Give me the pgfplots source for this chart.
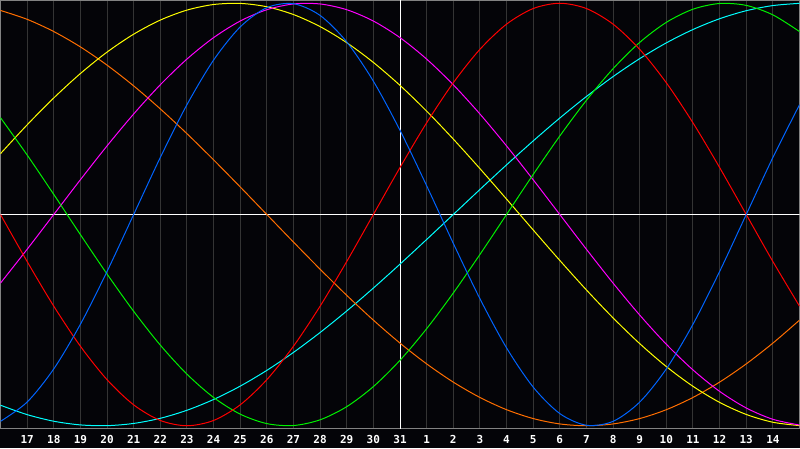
\documentclass[border=0pt]{standalone}
\usepackage{pgfplots}
\usepackage{pgfplotstable}
\pgfplotsset{compat=1.18}
\usepackage{fontspec}
\setmonofont{DejaVu Sans Mono}
\definecolor{bg}{RGB}{4,4,8}
\definecolor{gridc}{RGB}{52,52,52}
\definecolor{boxc}{RGB}{130,130,130}
\definecolor{cblue}{RGB}{0,100,255}
\definecolor{cred}{RGB}{255,0,0}
\definecolor{cgreen}{RGB}{0,240,0}
\definecolor{cmag}{RGB}{255,0,255}
\definecolor{cyel}{RGB}{255,255,0}
\definecolor{corange}{RGB}{255,110,0}
\definecolor{ccyan}{RGB}{0,255,255}
\pgfplotstableread{
t blue red green magenta yellow orange cyan
0 -0.9791 0 0.4582 -0.3247 0.2881 0.9659 -0.9028
1 -0.8879 -0.2225 0.2817 -0.1646 0.4244 0.9239 -0.9473
2 -0.7308 -0.4339 0.0951 0 0.5517 0.8660 -0.9786
3 -0.5196 -0.6235 -0.0951 0.1646 0.6673 0.7934 -0.9960
4 -0.2698 -0.7818 -0.2817 0.3247 0.7687 0.7071 -0.9996
5 0 -0.9010 -0.4582 0.4759 0.8536 0.6088 -0.9890
6 0.2698 -0.9749 -0.6182 0.6142 0.9203 0.5 -0.9647
7 0.5196 -1 -0.7557 0.7357 0.9675 0.3827 -0.9267
8 0.7308 -0.9749 -0.8660 0.8372 0.9940 0.2588 -0.8757
9 0.8879 -0.9010 -0.9450 0.9158 0.9993 0.1305 -0.8125
10 0.9791 -0.7818 -0.9898 0.9694 0.9834 0 -0.7378
11 0.9977 -0.6235 -0.9989 0.9966 0.9465 -0.1305 -0.6528
12 0.9423 -0.4339 -0.9718 0.9966 0.8894 -0.2588 -0.5586
13 0.8170 -0.2225 -0.9096 0.9694 0.8133 -0.3827 -0.4566
14 0.6311 0 -0.8146 0.9158 0.7199 -0.5 -0.3482
15 0.3984 0.2225 -0.6901 0.8372 0.6112 -0.6088 -0.2349
16 0.1362 0.4339 -0.5406 0.7357 0.4894 -0.7071 -0.1183
17 -0.1362 0.6235 -0.3717 0.6142 0.3572 -0.7934 0
18 -0.3984 0.7818 -0.1893 0.4759 0.2174 -0.8660 0.1183
19 -0.6311 0.9010 0 0.3247 0.0730 -0.9239 0.2349
20 -0.8170 0.9749 0.1893 0.1646 -0.0730 -0.9659 0.3482
21 -0.9423 1 0.3717 0 -0.2174 -0.9914 0.4566
22 -0.9977 0.9749 0.5406 -0.1646 -0.3572 -1 0.5586
23 -0.9791 0.9010 0.6901 -0.3247 -0.4894 -0.9914 0.6528
24 -0.8879 0.7818 0.8146 -0.4759 -0.6112 -0.9659 0.7378
25 -0.7308 0.6235 0.9096 -0.6142 -0.7199 -0.9239 0.8125
26 -0.5196 0.4339 0.9718 -0.7357 -0.8133 -0.8660 0.8757
27 -0.2698 0.2225 0.9989 -0.8372 -0.8894 -0.7934 0.9267
28 0 0 0.9898 -0.9158 -0.9465 -0.7071 0.9647
29 0.2698 -0.2225 0.9450 -0.9694 -0.9834 -0.6088 0.9890
30 0.5196 -0.4339 0.8660 -0.9966 -0.9993 -0.5 0.9996
}\biodata
\begin{document}
\begin{tikzpicture}[x=1pt,y=1pt]
\path[use as bounding box, fill=bg] (0,0) rectangle (800,448);
\begin{axis}[
  at={(0.5pt,19.5pt)}, anchor=south west,
  scale only axis, width=799pt, height=428pt,
  xmin=0, xmax=30, ymin=-1.013, ymax=1.013,
  axis line style={draw=boxc, line width=1pt},
  xtick={1,...,29},
  xticklabels={17,18,19,20,21,22,23,24,25,26,27,28,29,30,31,1,2,3,4,5,6,7,8,9,10,11,12,13,14},
  ytick=\empty,
  major tick length=0pt,
  xmajorgrids,
  grid style={draw=gridc, line width=1pt},
  xticklabel shift=0pt,
  xticklabel style={anchor=base, yshift=-15.3pt, text=white, font=\ttfamily\bfseries\fontsize{11}{11}\selectfont},
  /pgf/number format/assume math mode=true,
  every axis plot/.append style={line width=1pt, smooth, no markers},
]
\draw[white, line width=1pt] (axis cs:15,-1.1) -- (axis cs:15,1.1);
\draw[white, line width=1pt] (axis cs:0,0) -- (axis cs:30,0);
\addplot[ccyan] table[x=t,y=cyan] {\biodata};
\addplot[corange] table[x=t,y=orange] {\biodata};
\addplot[cyel] table[x=t,y=yellow] {\biodata};
\addplot[cmag] table[x=t,y=magenta] {\biodata};
\addplot[cgreen] table[x=t,y=green] {\biodata};
\addplot[cred] table[x=t,y=red] {\biodata};
\addplot[cblue] table[x=t,y=blue] {\biodata};
\end{axis}
\end{tikzpicture}
\end{document}
